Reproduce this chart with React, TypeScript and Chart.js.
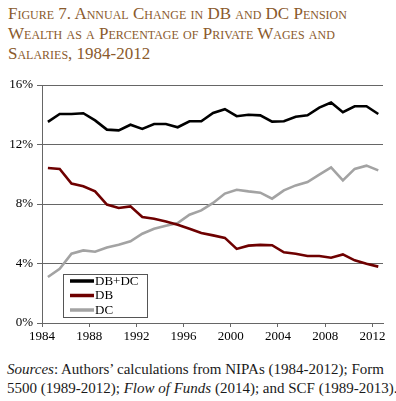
import React, { useEffect, useRef } from "react";
import { Chart, registerables } from "chart.js";

Chart.register(...registerables);

const years = [1984, 1985, 1986, 1987, 1988, 1989, 1990, 1991, 1992, 1993, 1994, 1995, 1996, 1997, 1998, 1999, 2000, 2001, 2002, 2003, 2004, 2005, 2006, 2007, 2008, 2009, 2010, 2011, 2012];
const tickYears = [1984, 1988, 1992, 1996, 2000, 2004, 2008, 2012];
const dbdc = [13.52, 14.05, 14.05, 14.1, 13.62, 13.0, 12.95, 13.33, 13.05, 13.38, 13.38, 13.16, 13.56, 13.56, 14.12, 14.37, 13.9, 14.0, 13.96, 13.54, 13.56, 13.87, 13.96, 14.48, 14.82, 14.17, 14.57, 14.57, 14.05];
const db = [10.42, 10.36, 9.37, 9.19, 8.85, 7.96, 7.73, 7.84, 7.13, 7.01, 6.83, 6.61, 6.34, 6.05, 5.89, 5.72, 4.98, 5.2, 5.25, 5.23, 4.75, 4.66, 4.5, 4.5, 4.39, 4.61, 4.21, 3.99, 3.79];
const dc = [3.09, 3.65, 4.66, 4.88, 4.79, 5.08, 5.26, 5.49, 6.0, 6.34, 6.54, 6.72, 7.28, 7.57, 8.07, 8.7, 8.96, 8.85, 8.76, 8.36, 8.92, 9.25, 9.48, 9.97, 10.46, 9.59, 10.36, 10.58, 10.26];
const seriesNames = ["DB+DC", "DB", "DC"];
const seriesColors = ["#000000", "#6e0000", "#a3a3a3"];

const FONT = "'Liberation Serif', 'Times New Roman', serif";

const boxLegend = {
  id: "boxLegend",
  afterDraw(chart: any) {
    const { ctx, chartArea } = chart;
    const x0 = chartArea.left + 21;
    const y0 = chartArea.bottom - 49;
    const w = 84;
    const h = 43;
    ctx.save();
    ctx.fillStyle = "#ffffff";
    ctx.fillRect(x0, y0, w, h);
    ctx.strokeStyle = "#555555";
    ctx.lineWidth = 1;
    ctx.strokeRect(x0 + 0.5, y0 + 0.5, w, h);
    ctx.font = "13px " + FONT;
    ctx.textBaseline = "middle";
    chart.data.datasets.forEach((ds: any, i: number) => {
      const cy = y0 + 7 + i * 14.5;
      ctx.strokeStyle = ds.borderColor;
      ctx.lineWidth = 3.5;
      ctx.beginPath();
      ctx.moveTo(x0 + 7, cy);
      ctx.lineTo(x0 + 31, cy);
      ctx.stroke();
      ctx.fillStyle = "#000";
      ctx.fillText(ds.label, x0 + 32, cy + 0.5);
    });
    ctx.restore();
  },
};

export default function App() {
  const ref = useRef<HTMLCanvasElement>(null);
  useEffect(() => {
    if (!ref.current) return;
    const mk = (vals: number[]) => vals.map((v, i) => ({ x: years[i] + 0.5, y: v }));
    const chart = new Chart(ref.current, {
      type: "line",
      data: {
        datasets: [dbdc, db, dc].map((vals, i) => ({
          label: seriesNames[i],
          data: mk(vals),
          borderColor: seriesColors[i],
          backgroundColor: seriesColors[i],
          borderWidth: 2.6,
          pointRadius: 0,
          tension: 0,
          fill: false,
        })),
      },
      options: {
        animation: false,
        responsive: false,
        maintainAspectRatio: false,
        layout: { padding: { top: 15, right: 13, left: 0, bottom: 0 } },
        plugins: { legend: { display: false }, tooltip: { enabled: false } },
        scales: {
          x: {
            type: "linear",
            min: 1984,
            max: 2012.9,
            afterBuildTicks: (s: any) => {
              s.ticks = tickYears.map((v) => ({ value: v }));
            },
            afterFit: (s: any) => {
              s.height = 27;
            },
            ticks: {
              font: { family: FONT, size: 13 },
              color: "#000",
              padding: 2,
              maxRotation: 0,
              autoSkip: false,
              callback: (v: any) => String(v),
            },
            grid: { drawOnChartArea: false, drawTicks: true, tickLength: 4, color: "#666" },
            border: { display: true, color: "#666", width: 1 },
          },
          y: {
            min: 0,
            max: 16,
            afterFit: (s: any) => {
              s.width = 42;
            },
            ticks: {
              stepSize: 4,
              font: { family: FONT, size: 13 },
              color: "#000",
              padding: 4,
              callback: (v: any) => v + "%",
            },
            grid: { color: "#666", tickLength: 5, lineWidth: 1 },
            border: { display: true, color: "#666", width: 1 },
          },
        },
      },
      plugins: [boxLegend],
    });
    return () => chart.destroy();
  }, []);

  return (
    <div style={{ position: "absolute", left: 0, top: 0, width: 396, height: 401, background: "#fff", overflow: "hidden" }}>
      <div
        style={{
          position: "absolute",
          left: 8,
          top: 4,
          fontFamily: FONT,
          fontSize: 17,
          lineHeight: "20px",
          fontVariant: "small-caps",
          color: "#8a5a2c",
          whiteSpace: "nowrap",
        }}
      >
        Figure 7. Annual Change in DB and DC Pension
        <br />
        Wealth as a Percentage of Private Wages and
        <br />
        Salaries, 1984-2012
      </div>
      <canvas ref={ref} width={396} height={280} style={{ position: "absolute", left: 0, top: 70, width: 396, height: 280 }} />
      <div
        style={{
          position: "absolute",
          left: 7,
          top: 360,
          fontFamily: FONT,
          fontSize: 15,
          lineHeight: "19px",
          color: "#1a1a1a",
          whiteSpace: "nowrap",
        }}
      >
        <i>Sources</i>: Authors’ calculations from NIPAs (1984-2012); Form
        <br />
        5500 (1989-2012); <i>Flow of Funds</i> (2014); and SCF (1989-2013).
      </div>
    </div>
  );
}
